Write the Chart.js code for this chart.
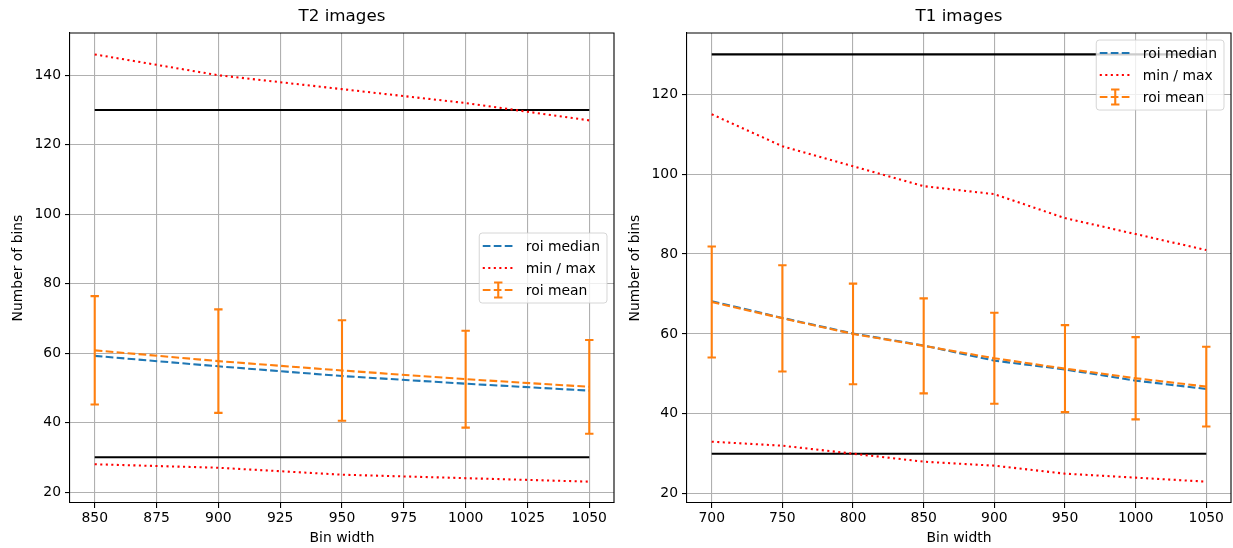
<!DOCTYPE html>
<html lang="en">
  <head>
    <meta charset="UTF-8" />
    <title>Number of bins vs bin width</title>
    <style>
      body {
        margin: 0;
        background: #fff;
        overflow: hidden;
      }
      canvas {
        position: absolute;
        top: 0;
      }
    </style>
    <script src="https://cdn.jsdelivr.net/npm/chart.js"></script>
  </head>
  <body>
    <canvas id="t2Chart" width="617" height="548" style="left: 0"></canvas>
    <canvas id="t1Chart" width="616" height="548" style="left: 617px"></canvas>

    <script>
      // T2 series
      const t2Bins = [850, 900, 950, 1000, 1050];
      const t2Median = [59.2, 56.2, 53.4, 51.2, 49.2];
      const t2Mean = [60.8, 57.7, 55.0, 52.5, 50.3];
      const t2Std = [15.6, 14.9, 14.45, 13.95, 13.5];
      const t2Max = [146, 140, 136, 132, 127];
      const t2Min = [28, 27, 25, 24, 23];
      const t2Limits = [30, 130];
      const t2XTicks = [850, 875, 900, 925, 950, 975, 1000, 1025, 1050];
      const t2YTicks = [20, 40, 60, 80, 100, 120, 140];

      // T1 series
      const t1Bins = [700, 750, 800, 850, 900, 950, 1000, 1050];
      const t1Median = [68.2, 64.0, 60.1, 57.1, 53.3, 51.1, 48.3, 46.2];
      const t1Mean = [68.0, 63.9, 60.0, 57.0, 53.9, 51.3, 48.9, 46.8];
      const t1Std = [13.9, 13.3, 12.6, 11.9, 11.4, 10.9, 10.3, 10.0];
      const t1Max = [115, 107, 102, 97, 95, 89, 85, 81];
      const t1Min = [33, 32, 30, 28, 27, 25, 24, 23];
      const t1Limits = [30, 130];
      const t1XTicks = [700, 750, 800, 850, 900, 950, 1000, 1050];
      const t1YTicks = [20, 40, 60, 80, 100, 120];

      const seriesLabels = ["roi median", "min / max", "roi mean"];

      const BLUE = "#1f77b4";
      const ORANGE = "#ff7f0e";
      const RED = "#ff0000";
      const FONT = '"DejaVu Sans", sans-serif';
      const FS = 13.9; // 10pt at 100 dpi
      const LW = 2.08; // 1.5pt
      const DASHED = [7.7, 3.3];
      const DOTTED = [2.08, 3.44];

      Chart.defaults.font.family = FONT;
      Chart.defaults.font.size = FS;
      Chart.defaults.color = "#000";

      function points(xs, ys) {
        return xs.map((x, i) => ({ x: x, y: ys[i] }));
      }

      // error bars, box spines and the in-axes legend
      const decorations = {
        id: "decorations",
        afterDatasetsDraw(chart, args, opts) {
          const { ctx, scales } = chart;
          const a = chart.chartArea;
          ctx.save();
          ctx.beginPath();
          ctx.rect(a.left, a.top, a.right - a.left, a.bottom - a.top);
          ctx.clip();
          ctx.strokeStyle = ORANGE;
          ctx.lineWidth = LW;
          opts.bins.forEach((b, i) => {
            const px = scales.x.getPixelForValue(b);
            const hi = scales.y.getPixelForValue(opts.mean[i] + opts.std[i]);
            const lo = scales.y.getPixelForValue(opts.mean[i] - opts.std[i]);
            ctx.beginPath();
            ctx.moveTo(px, hi);
            ctx.lineTo(px, lo);
            ctx.moveTo(px - 4.2, hi);
            ctx.lineTo(px + 4.2, hi);
            ctx.moveTo(px - 4.2, lo);
            ctx.lineTo(px + 4.2, lo);
            ctx.stroke();
          });
          ctx.restore();
        },
        afterDraw(chart, args, opts) {
          const { ctx } = chart;
          const a = chart.chartArea;
          ctx.save();
          // top and right spines
          ctx.strokeStyle = "#000";
          ctx.lineWidth = 1.1;
          ctx.beginPath();
          ctx.moveTo(a.left, a.top);
          ctx.lineTo(a.right, a.top);
          ctx.lineTo(a.right, a.bottom);
          ctx.stroke();

          // legend box
          const padL = 3.5;
          const padR = 7;
          const padV = 5.5;
          const handleLen = 31;
          const textPad = 12;
          const rowH = 15;
          const gap = 7;
          ctx.font = FS + "px " + FONT;
          const textW = Math.max(...seriesLabels.map((t) => ctx.measureText(t).width));
          const w = padL + handleLen + textPad + textW + padR;
          const h = padV * 2 + seriesLabels.length * rowH + (seriesLabels.length - 1) * gap;
          const right = a.right - 7;
          const left = right - w;
          const top =
            opts.legendLoc === "upper right"
              ? a.top + 7
              : (a.top + a.bottom) / 2 - h / 2;

          ctx.fillStyle = "rgba(255,255,255,0.8)";
          ctx.strokeStyle = "rgba(204,204,204,0.8)";
          ctx.lineWidth = 1;
          ctx.beginPath();
          ctx.roundRect(left, top, w, h, 3);
          ctx.fill();
          ctx.stroke();

          const hx0 = left + padL;
          const hx1 = hx0 + handleLen;
          const styles = [
            { color: BLUE, dash: DASHED },
            { color: RED, dash: DOTTED },
            { color: ORANGE, dash: DASHED, err: true },
          ];
          seriesLabels.forEach((label, i) => {
            const cy = top + padV + i * (rowH + gap) + rowH / 2;
            const s = styles[i];
            ctx.strokeStyle = s.color;
            ctx.lineWidth = LW;
            ctx.setLineDash(s.dash);
            ctx.beginPath();
            ctx.moveTo(hx0, cy);
            ctx.lineTo(hx1, cy);
            ctx.stroke();
            ctx.setLineDash([]);
            if (s.err) {
              const mx = (hx0 + hx1) / 2;
              ctx.beginPath();
              ctx.moveTo(mx, cy - 7.5);
              ctx.lineTo(mx, cy + 7.5);
              ctx.moveTo(mx - 4.2, cy - 7.5);
              ctx.lineTo(mx + 4.2, cy - 7.5);
              ctx.moveTo(mx - 4.2, cy + 7.5);
              ctx.lineTo(mx + 4.2, cy + 7.5);
              ctx.stroke();
            }
            ctx.fillStyle = "#000";
            ctx.textBaseline = "middle";
            ctx.textAlign = "left";
            ctx.fillText(label, hx1 + textPad, cy + 1);
          });
          ctx.restore();
        },
      };

      function makeChart(id, cfg) {
        const line = (data, color, dash, order, label) => ({
          label: label,
          data: data,
          borderColor: color,
          borderWidth: LW,
          borderDash: dash,
          pointRadius: 0,
          tension: 0,
          fill: false,
          order: order,
        });
        const first = cfg.bins[0];
        const last = cfg.bins[cfg.bins.length - 1];

        new Chart(document.getElementById(id), {
          type: "line",
          data: {
            datasets: [
              line(points([first, last], [cfg.limits[1], cfg.limits[1]]), "#000", [], 6, "upper limit"),
              line(points([first, last], [cfg.limits[0], cfg.limits[0]]), "#000", [], 5, "lower limit"),
              line(points(cfg.bins, cfg.median), BLUE, DASHED, 4, seriesLabels[0]),
              line(points(cfg.bins, cfg.max), RED, DOTTED, 3, seriesLabels[1]),
              line(points(cfg.bins, cfg.min), RED, DOTTED, 2, "min"),
              line(points(cfg.bins, cfg.mean), ORANGE, DASHED, 1, seriesLabels[2]),
            ],
          },
          options: {
            responsive: false,
            animation: false,
            events: [],
            layout: { padding: { left: 0, right: cfg.padRight, top: 0, bottom: 0 } },
            plugins: {
              legend: { display: false },
              tooltip: { enabled: false },
              title: {
                display: true,
                text: cfg.title,
                fullSize: false,
                color: "#000",
                font: { size: 16.7, weight: "normal" },
                padding: { top: 7, bottom: 6 },
              },
              decorations: {
                bins: cfg.bins,
                mean: cfg.mean,
                std: cfg.std,
                legendLoc: cfg.legendLoc,
              },
            },
            scales: {
              x: {
                type: "linear",
                min: cfg.xRange[0],
                max: cfg.xRange[1],
                afterBuildTicks: (scale) => {
                  scale.ticks = cfg.xTicks.map((v) => ({ value: v }));
                },
                afterFit: (scale) => {
                  scale.height = 45;
                },
                ticks: {
                  padding: 2,
                  maxRotation: 0,
                  autoSkip: false,
                  color: "#000",
                  callback: (v) => String(v),
                },
                grid: { color: "#b0b0b0", lineWidth: 1.1, tickColor: "#000", tickLength: 5 },
                border: { display: true, color: "#000", width: 1.1 },
                title: {
                  display: true,
                  text: "Bin width",
                  color: "#000",
                  font: { size: FS },
                  padding: { top: 0, bottom: 1.5 },
                },
              },
              y: {
                type: "linear",
                min: cfg.yRange[0],
                max: cfg.yRange[1],
                afterBuildTicks: (scale) => {
                  scale.ticks = cfg.yTicks.map((v) => ({ value: v }));
                },
                afterFit: (scale) => {
                  scale.width = 70;
                },
                ticks: { padding: 4, color: "#000", callback: (v) => String(v) },
                grid: { color: "#b0b0b0", lineWidth: 1.1, tickColor: "#000", tickLength: 5 },
                border: { display: true, color: "#000", width: 1.1 },
                title: {
                  display: true,
                  text: "Number of bins",
                  color: "#000",
                  font: { size: FS },
                  padding: { top: 10, bottom: 0 },
                },
              },
            },
          },
          plugins: [decorations],
        });
      }

      makeChart("t2Chart", {
        title: "T2 images",
        bins: t2Bins,
        median: t2Median,
        mean: t2Mean,
        std: t2Std,
        max: t2Max,
        min: t2Min,
        limits: t2Limits,
        xTicks: t2XTicks,
        yTicks: t2YTicks,
        xRange: [840, 1060],
        yRange: [16.85, 152.15],
        legendLoc: "center right",
        padRight: 3,
      });

      makeChart("t1Chart", {
        title: "T1 images",
        bins: t1Bins,
        median: t1Median,
        mean: t1Mean,
        std: t1Std,
        max: t1Max,
        min: t1Min,
        limits: t1Limits,
        xTicks: t1XTicks,
        yTicks: t1YTicks,
        xRange: [682.5, 1067.5],
        yRange: [17.65, 135.35],
        legendLoc: "upper right",
        padRight: 2,
      });
    </script>
  </body>
</html>
